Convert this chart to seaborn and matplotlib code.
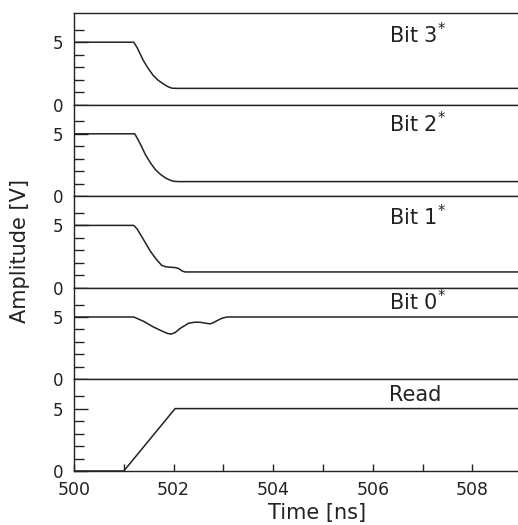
import numpy as np
import pandas as pd
import matplotlib
matplotlib.use('Agg')
import matplotlib.pyplot as plt
import seaborn as sns
from matplotlib.ticker import FixedLocator

# traces (time in ns, amplitude in V)
bit3_t = [500, 501.20, 501.27, 501.33, 501.39, 501.49, 501.59, 501.69, 501.79, 501.88, 501.96, 502.05, 510]
bit3_v = [5.0, 5.0, 4.55, 4.05, 3.55, 2.9, 2.34, 1.95, 1.67, 1.45, 1.32, 1.3, 1.3]

bit2_t = [500, 501.22, 501.29, 501.36, 501.43, 501.53, 501.63, 501.73, 501.83, 501.91, 501.99, 502.1, 510]
bit2_v = [5.0, 5.0, 4.5, 3.95, 3.36, 2.7, 2.15, 1.77, 1.48, 1.32, 1.2, 1.17, 1.17]

bit1_t = [500, 501.20, 501.27, 501.36, 501.45, 501.53, 501.65, 501.76, 501.85, 502.03, 502.10, 502.17, 502.23, 510]
bit1_v = [5.0, 5.0, 4.7, 4.1, 3.5, 2.95, 2.3, 1.8, 1.68, 1.62, 1.55, 1.35, 1.27, 1.27]

bit0_t = [500, 501.20, 501.40, 501.59, 501.78, 501.88, 501.95, 502.03, 502.13, 502.30, 502.42, 502.53, 502.65, 502.73, 502.80, 502.87, 502.97, 503.07, 510]
bit0_v = [5.0, 5.0, 4.65, 4.21, 3.85, 3.68, 3.63, 3.75, 4.08, 4.5, 4.58, 4.58, 4.5, 4.45, 4.55, 4.7, 4.9, 5.0, 5.0]

read_t = [500, 501.0, 502.03, 510]
read_v = [0.0, 0.0, 5.0, 5.0]

names = ['Bit 3$^{*}$', 'Bit 2$^{*}$', 'Bit 1$^{*}$', 'Bit 0$^{*}$', 'Read']
label_y = [5.6, 5.8, 5.7, 6.2, 6.05]

traces = [(bit3_t, bit3_v), (bit2_t, bit2_v), (bit1_t, bit1_v),
          (bit0_t, bit0_v), (read_t, read_v)]

sns.set_style('ticks')
plt.rcParams['font.family'] = ['DejaVu Sans']

ink = '#222222'
fig = plt.figure(figsize=(5.18, 5.25), dpi=100)

left = 74 / 518
width = (560 - 74) / 518
top = 1 - 13 / 525
bottom = 1 - 471 / 525
h = (top - bottom) / 5

axes = []
for i, ((t, v), name) in enumerate(zip(traces, names)):
    ax = fig.add_axes([left, top - (i + 1) * h, width, h])
    df = pd.DataFrame({'t': t, 'v': v})
    sns.lineplot(data=df, x='t', y='v', ax=ax, color=ink, linewidth=1.1)
    ax.set_xlim(500, 509.76)
    ax.set_ylim(0, 7.34)
    ax.set_yticks([0, 5])
    ax.yaxis.set_minor_locator(FixedLocator([1, 2, 3, 4, 6]))
    ax.tick_params(axis='y', which='major', direction='in', length=10, width=1.0,
                   color=ink, labelsize=12, pad=8, labelcolor=ink)
    ax.tick_params(axis='y', which='minor', direction='in', length=7, width=1.0, color=ink)
    ax.set_ylabel('')
    ax.set_xlabel('')
    for s in ax.spines.values():
        s.set_color(ink)
        s.set_linewidth(1.0)
    ax.text(506.33, label_y[i], name, fontsize=15, color=ink, ha='left', va='center')
    if i < 4:
        ax.tick_params(axis='x', which='both', bottom=False, labelbottom=False)
    axes.append(ax)

ax = axes[-1]
ax.set_xticks([500, 502, 504, 506, 508])
ax.xaxis.set_minor_locator(FixedLocator([501, 503, 505, 507, 509]))
ax.tick_params(axis='x', which='both', direction='in', length=5, width=1.0,
               color=ink, labelsize=12.5, pad=7, labelcolor=ink)
ax.set_xlabel('Time [ns]', fontsize=15, color=ink, labelpad=3)

fig.text(20 / 518, 1 - 251 / 525, 'Amplitude [V]', rotation=90, fontsize=15,
         color=ink, ha='center', va='center')

fig.savefig('out.png', dpi=100)
